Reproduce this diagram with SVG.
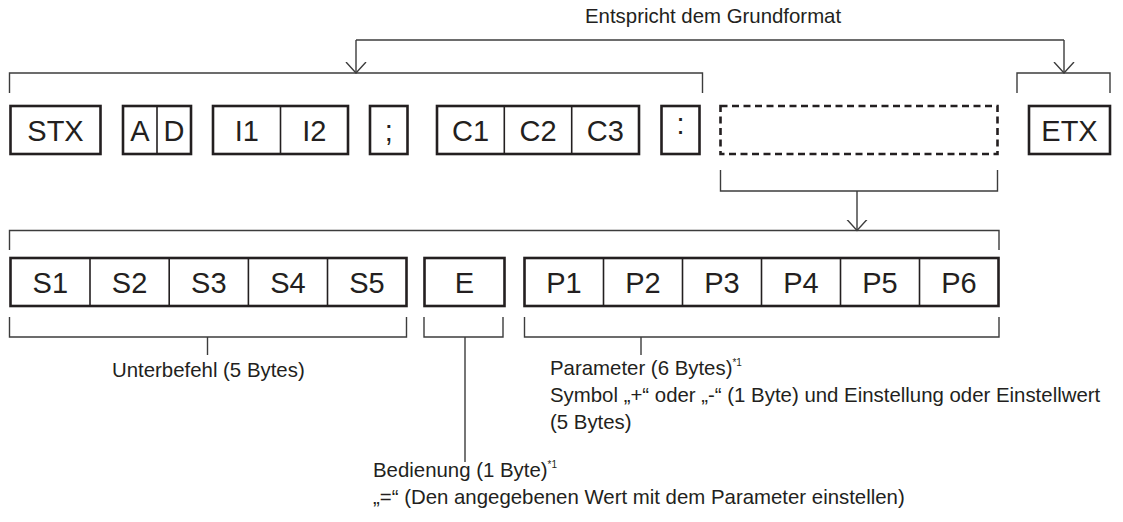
<svg xmlns="http://www.w3.org/2000/svg" width="1123" height="522" viewBox="0 0 1123 522">
<style>
.bg{fill:#ffffff}
.box{fill:none;stroke:#231f20;stroke-width:2.6}
.div{fill:none;stroke:#231f20;stroke-width:1.6}
.dash{fill:none;stroke:#231f20;stroke-width:2.6;stroke-dasharray:7 4.5}
.ln{fill:none;stroke:#3c3c3c;stroke-width:1.4}
.lbl{font-family:"Liberation Sans",Arial,sans-serif;font-size:29px;fill:#231f20;text-anchor:middle}
.txt{font-family:"Liberation Sans",Arial,sans-serif;font-size:20.4px;fill:#231f20}
.sup{font-size:10px}
</style>
<defs>
<marker id="ah" viewBox="0 0 12 22" refX="11" refY="11" markerWidth="12" markerHeight="22" markerUnits="userSpaceOnUse" orient="auto">
<path d="M0,1 L11,11 L0,21" fill="none" stroke="#3c3c3c" stroke-width="1.4"/>
</marker>
</defs>
<rect class="bg" x="0" y="0" width="1123" height="522"/>

<g id="connectors">
<path class="ln" d="M356,40 H1064"/>
<path class="ln" d="M356,40 V73" marker-end="url(#ah)"/>
<path class="ln" d="M1064,40 V73" marker-end="url(#ah)"/>
<path class="ln" d="M9.5,93 V73 H702.5 V93"/>
<path class="ln" d="M1017,93 V73 H1110 V93"/>
<path class="ln" d="M720.5,170 V191 H997.5 V170"/>
<path class="ln" d="M857,191 V230.5" marker-end="url(#ah)"/>
<path class="ln" d="M9.5,250 V230.5 H999 V250"/>
<path class="ln" d="M9.5,317 V337 H406.5 V317"/>
<path class="ln" d="M207.5,337 V355"/>
<path class="ln" d="M424,317 V337 H503 V317"/>
<path class="ln" d="M465,337 V462"/>
<path class="ln" d="M524.5,317 V337 H999 V317"/>
<path class="ln" d="M641,337 V355"/>
</g>

<g id="title">
<text class="txt" x="585" y="23">Entspricht dem Grundformat</text>
</g>

<g id="stx">
<rect class="box" x="10.5" y="106" width="90" height="48"/>
<text class="lbl" x="55.5" y="140.5">STX</text>
</g>
<g id="ad">
<rect class="box" x="123" y="106" width="68" height="48"/>
<line class="div" x1="157" y1="106" x2="157" y2="154"/>
<text class="lbl" x="140" y="140.5">A</text>
<text class="lbl" x="174" y="140.5">D</text>
</g>
<g id="i1i2">
<rect class="box" x="213" y="106" width="135" height="48"/>
<line class="div" x1="280.5" y1="106" x2="280.5" y2="154"/>
<text class="lbl" x="246.75" y="140.5">I1</text>
<text class="lbl" x="314.25" y="140.5">I2</text>
</g>
<g id="semicolon">
<rect class="box" x="370" y="106" width="37.5" height="48"/>
<text class="lbl" x="388.75" y="140.5">;</text>
</g>
<g id="c1c2c3">
<rect class="box" x="437" y="106" width="202" height="48"/>
<line class="div" x1="504.3" y1="106" x2="504.3" y2="154"/>
<line class="div" x1="571.7" y1="106" x2="571.7" y2="154"/>
<text class="lbl" x="470.6" y="140.5">C1</text>
<text class="lbl" x="538" y="140.5">C2</text>
<text class="lbl" x="605.3" y="140.5">C3</text>
</g>
<g id="colon">
<rect class="box" x="661.5" y="106" width="38" height="48"/>
<text class="lbl" x="680.5" y="134">:</text>
</g>
<g id="dashed">
<rect class="dash" x="720.5" y="106" width="277" height="48"/>
</g>
<g id="etx">
<rect class="box" x="1029" y="106" width="81" height="48"/>
<text class="lbl" x="1069.5" y="140.5">ETX</text>
</g>

<g id="subcommand">
<rect class="box" x="10.5" y="258" width="396" height="48"/>
<line class="div" x1="90" y1="258" x2="90" y2="306"/>
<line class="div" x1="169.2" y1="258" x2="169.2" y2="306"/>
<line class="div" x1="248.4" y1="258" x2="248.4" y2="306"/>
<line class="div" x1="327.5" y1="258" x2="327.5" y2="306"/>
<text class="lbl" x="50.3" y="292.5">S1</text>
<text class="lbl" x="129.6" y="292.5">S2</text>
<text class="lbl" x="208.8" y="292.5">S3</text>
<text class="lbl" x="288" y="292.5">S4</text>
<text class="lbl" x="367" y="292.5">S5</text>
</g>
<g id="e">
<rect class="box" x="424.5" y="258" width="80" height="48"/>
<text class="lbl" x="464.5" y="292.5">E</text>
</g>
<g id="params">
<rect class="box" x="524.5" y="258" width="474" height="48"/>
<line class="div" x1="603.5" y1="258" x2="603.5" y2="306"/>
<line class="div" x1="682.5" y1="258" x2="682.5" y2="306"/>
<line class="div" x1="761.5" y1="258" x2="761.5" y2="306"/>
<line class="div" x1="840.5" y1="258" x2="840.5" y2="306"/>
<line class="div" x1="919.5" y1="258" x2="919.5" y2="306"/>
<text class="lbl" x="564" y="292.5">P1</text>
<text class="lbl" x="643" y="292.5">P2</text>
<text class="lbl" x="722" y="292.5">P3</text>
<text class="lbl" x="801" y="292.5">P4</text>
<text class="lbl" x="880" y="292.5">P5</text>
<text class="lbl" x="959" y="292.5">P6</text>
</g>

<g id="labels">
<text class="txt" x="112" y="377">Unterbefehl (5 Bytes)</text>
<text class="txt" x="550" y="375">Parameter (6 Bytes)<tspan class="sup" dy="-9">*1</tspan></text>
<text class="txt" x="550" y="402">Symbol „+“ oder „-“ (1 Byte) und Einstellung oder Einstellwert</text>
<text class="txt" x="550" y="429">(5 Bytes)</text>
<text class="txt" x="373" y="477">Bedienung (1 Byte)<tspan class="sup" dy="-9">*1</tspan></text>
<text class="txt" x="373" y="504">„=“ (Den angegebenen Wert mit dem Parameter einstellen)</text>
</g>
</svg>
